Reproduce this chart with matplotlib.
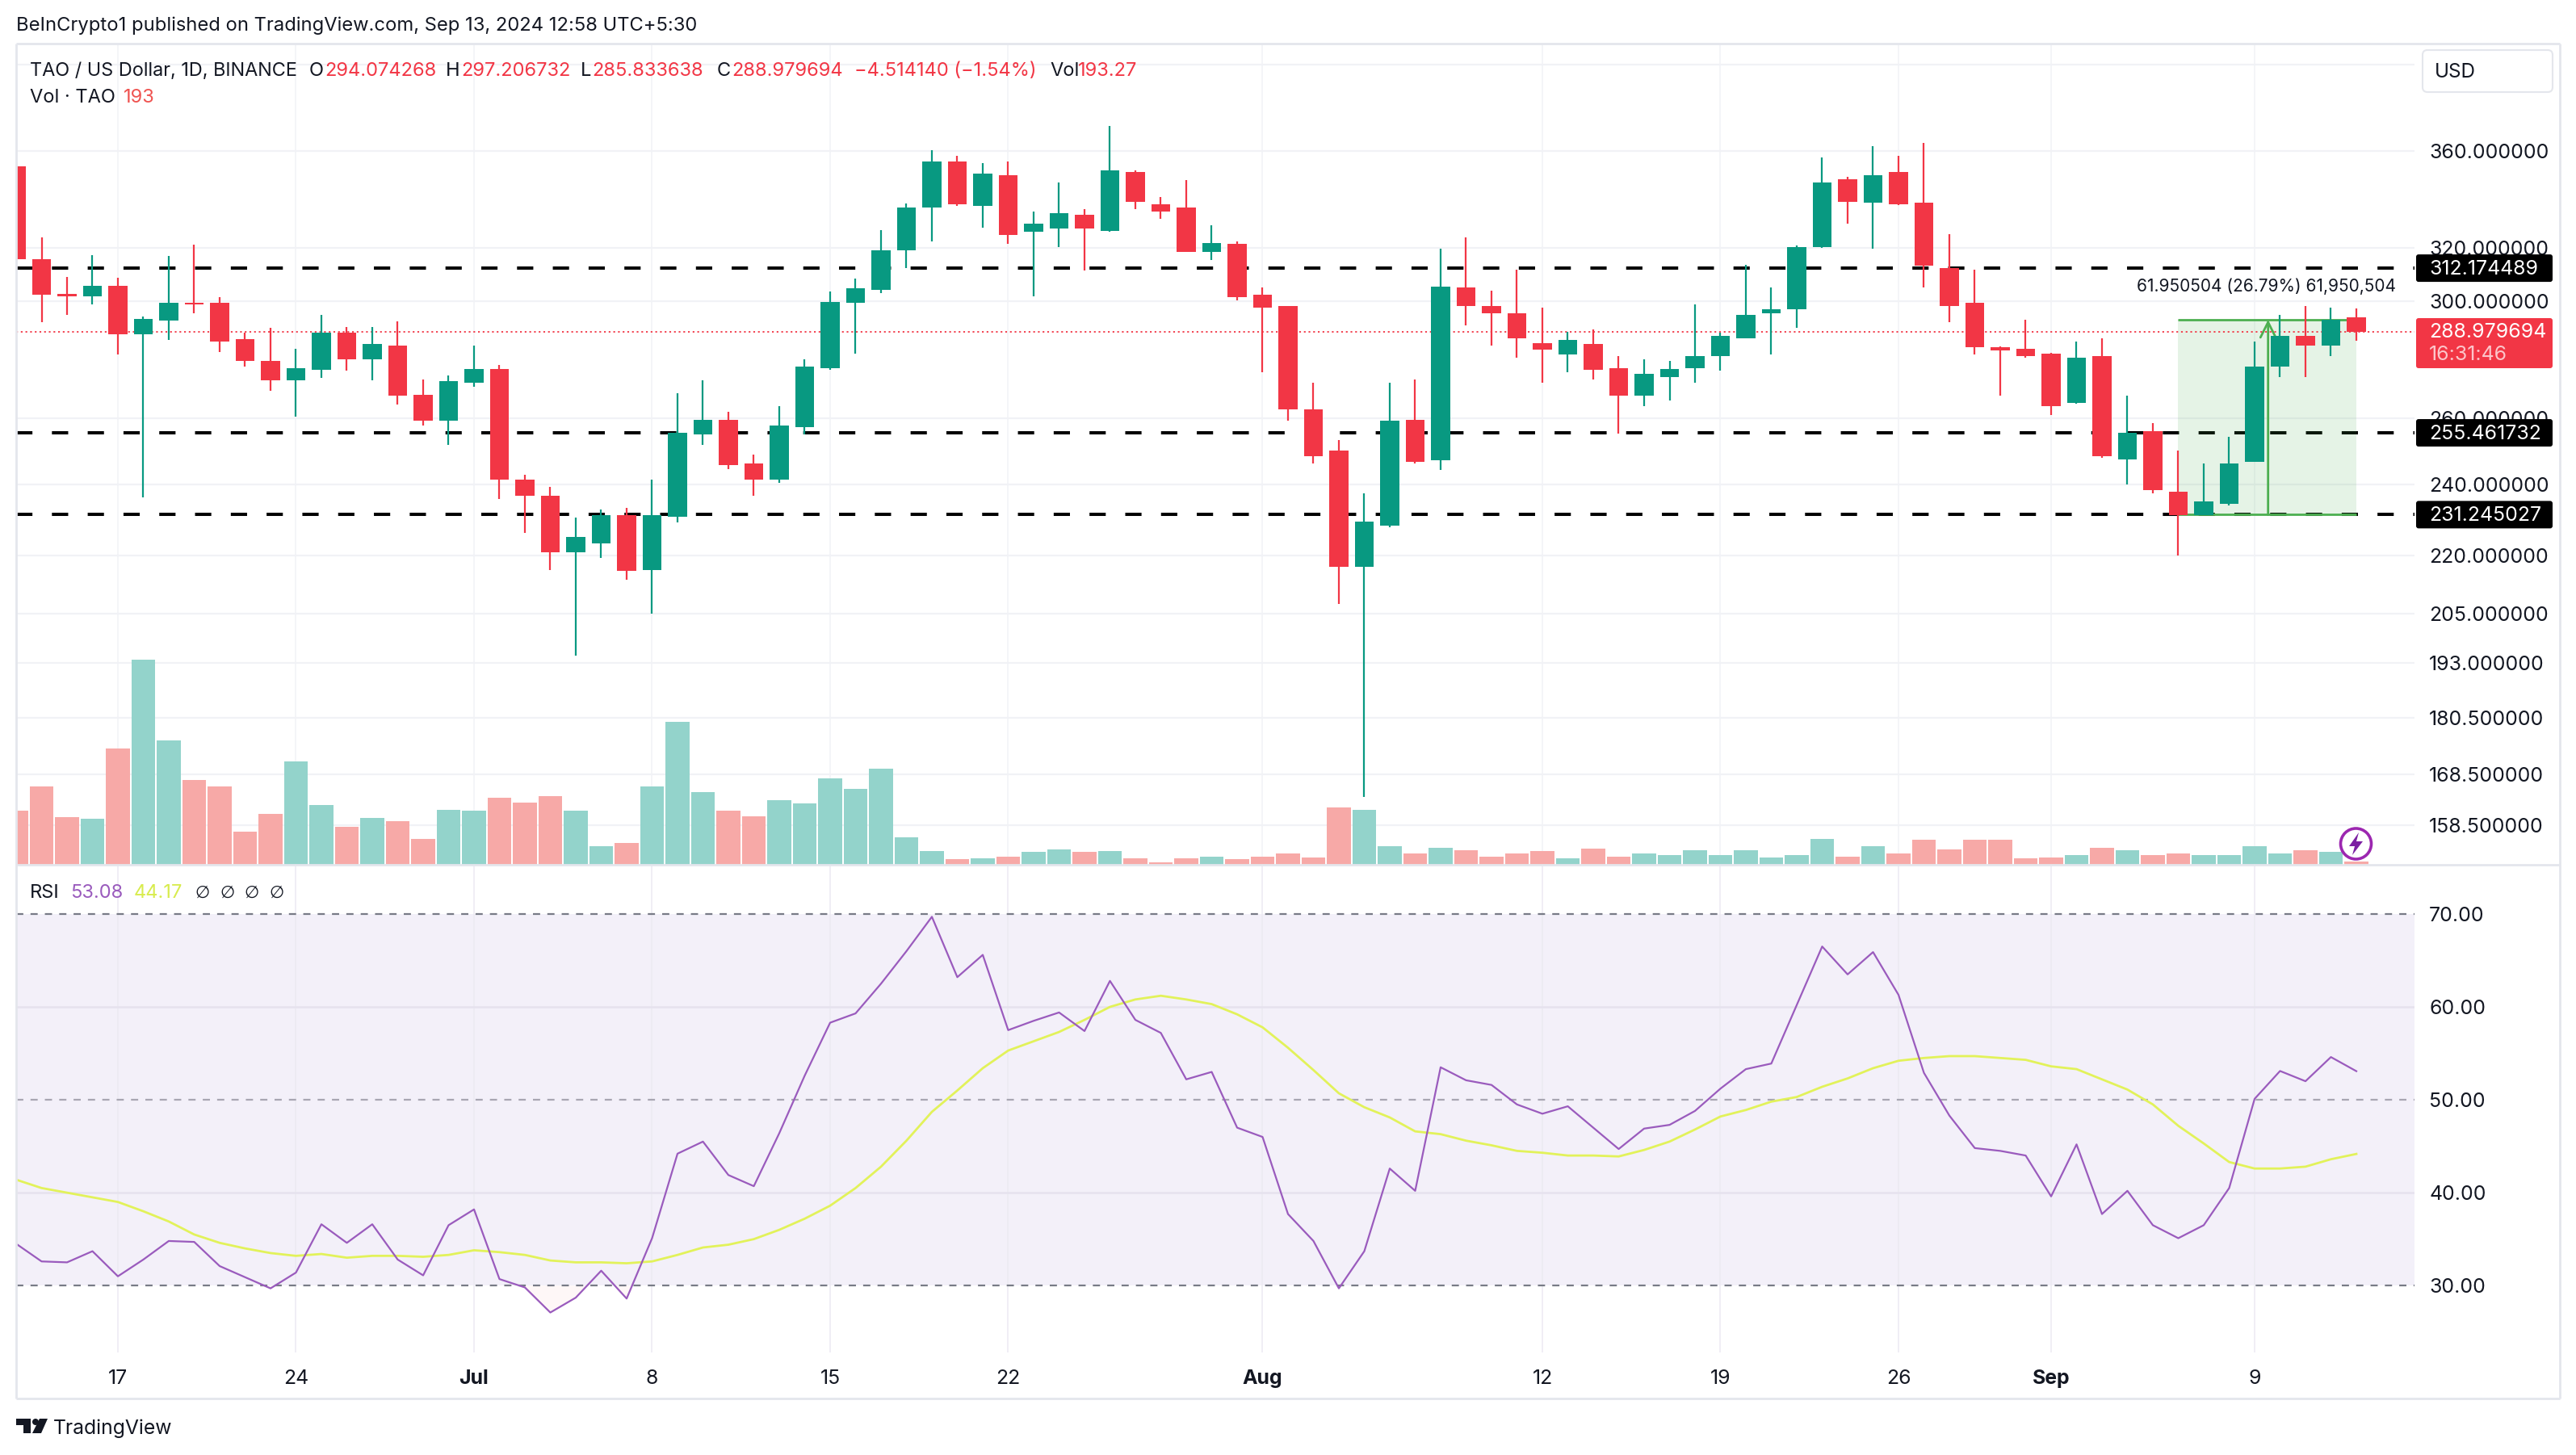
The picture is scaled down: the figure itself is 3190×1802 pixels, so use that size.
import matplotlib
matplotlib.use('Agg')
import matplotlib.pyplot as plt
from matplotlib.patches import Rectangle, FancyBboxPatch, Polygon, Circle
from matplotlib.ticker import NullLocator, NullFormatter

plt.rcParams['font.family'] = ['Inter', 'DejaVu Sans']

# candles, one per day from 13 Jun 2024
opens = [353.5, 315.7, 302.5, 301.5, 305.6, 288.1, 292.9, 299.4, 299.2, 286.2,
         278.9, 272.2, 275.7, 288.7, 279.3, 284.2, 267.6, 259.3, 271.6, 276.1,
         241.3, 236.6, 220.8, 223.3, 231.0, 216.1, 230.7, 255.1, 259.6, 246.1,
         241.4, 257.3, 276.5, 299.2, 304.0, 319.1, 336.0, 355.6, 336.7, 349.7,
         326.2, 327.5, 333.2, 326.6, 351.1, 337.4, 336.0, 318.5, 321.5, 302.1,
         298.0, 262.9, 250.1, 217.1, 228.1, 259.5, 247.2, 304.8, 298.2, 295.6,
         284.8, 281.0, 284.6, 276.3, 267.4, 273.3, 276.5, 280.4, 286.7, 295.4,
         297.0, 320.2, 347.7, 338.0, 350.9, 338.2, 312.1, 299.2, 283.6, 283.0,
         281.2, 264.9, 280.4, 247.4, 256.0, 237.9, 231.2, 234.3, 246.7, 276.8,
         287.5, 284.2, 294.07]
highs = [355.0, 324.0, 308.7, 317.0, 308.5, 294.4, 316.8, 321.1, 301.3, 288.7,
         290.3, 283.0, 295.0, 290.5, 290.5, 292.5, 272.5, 273.9, 284.2, 277.4,
         242.7, 239.1, 230.4, 232.6, 233.1, 241.3, 268.0, 272.2, 262.1, 248.7,
         264.0, 279.4, 303.4, 308.1, 326.8, 337.6, 360.5, 357.8, 354.9, 355.6,
         334.4, 346.5, 335.3, 371.2, 351.8, 340.3, 347.5, 329.0, 322.6, 304.8,
         298.2, 271.6, 253.3, 237.4, 271.6, 272.5, 319.5, 324.0, 303.6, 311.7,
         297.4, 288.9, 289.7, 280.6, 279.4, 278.9, 298.6, 288.7, 313.4, 304.8,
         320.9, 357.3, 348.9, 362.0, 357.8, 363.7, 325.5, 311.7, 283.8, 293.1,
         281.6, 285.4, 286.7, 267.2, 258.4, 249.9, 246.2, 254.2, 285.6, 294.8,
         298.2, 297.6, 297.21]
lows = [315.0, 292.3, 294.8, 298.6, 281.0, 236.1, 286.0, 295.4, 282.0, 277.0,
        269.0, 260.5, 273.1, 275.5, 272.2, 264.4, 257.7, 251.8, 270.3, 235.6,
        226.1, 216.2, 194.8, 219.3, 213.6, 205.0, 229.0, 251.8, 244.5, 236.6,
        240.3, 255.1, 275.9, 281.2, 302.7, 312.1, 322.6, 336.7, 327.9, 321.5,
        301.5, 320.2, 311.3, 326.2, 335.3, 331.5, 318.3, 315.3, 300.1, 275.1,
        259.3, 246.2, 207.5, 164.0, 227.8, 246.2, 244.2, 291.1, 284.0, 279.8,
        271.6, 274.9, 272.7, 255.3, 263.8, 265.8, 271.4, 275.5, 286.5, 281.0,
        290.3, 320.0, 329.7, 319.6, 337.1, 304.8, 292.3, 281.0, 267.2, 279.8,
        261.0, 264.7, 247.9, 240.0, 237.4, 220.1, 231.0, 233.9, 246.5, 273.5,
        273.3, 280.6, 285.83]
closes = [315.5, 302.1, 301.5, 305.4, 288.1, 293.4, 299.2, 298.8, 285.6, 278.9,
          272.2, 276.3, 288.5, 279.3, 284.6, 267.4, 259.3, 272.0, 276.1, 241.3,
          236.6, 220.9, 225.0, 231.0, 216.0, 231.2, 255.6, 259.6, 245.6, 241.3,
          257.7, 277.0, 299.6, 304.6, 319.1, 336.2, 355.6, 337.4, 350.4, 325.1,
          329.5, 333.7, 327.5, 351.6, 338.5, 334.4, 318.5, 321.8, 301.3, 297.4,
          262.9, 248.2, 217.1, 229.2, 259.3, 246.6, 305.2, 298.2, 295.6, 286.7,
          282.6, 286.0, 275.7, 267.2, 274.6, 276.1, 280.4, 287.5, 295.0, 297.0,
          320.4, 346.5, 338.5, 349.7, 337.4, 313.0, 298.0, 283.6, 282.4, 280.6,
          263.8, 280.0, 248.2, 255.6, 238.2, 231.2, 235.1, 246.2, 276.8, 287.5,
          284.0, 293.1, 288.98]
volumes = [3104, 4480, 2720, 2624, 6688, 11776, 7136, 4896, 4480, 1920,
           2912, 5920, 3424, 2176, 2688, 2496, 1504, 3136, 3104, 3840,
           3552, 3936, 3104, 1088, 1248, 4480, 8192, 4160, 3104, 2784,
           3712, 3520, 4960, 4384, 5504, 1600, 800, 320, 352, 448,
           736, 864, 736, 768, 352, 160, 384, 480, 320, 448,
           640, 416, 3296, 3136, 1088, 672, 992, 832, 480, 640,
           768, 352, 928, 448, 672, 544, 832, 576, 832, 416,
           576, 1504, 480, 1056, 672, 1440, 864, 1440, 1440, 352,
           416, 576, 960, 832, 576, 640, 576, 544, 1056, 640,
           832, 736, 193]
rsi = [34.5, 32.6, 32.5, 33.7, 31.0, 32.8, 34.8, 34.7, 32.1, 30.9,
       29.7, 31.4, 36.6, 34.6, 36.6, 32.8, 31.1, 36.5, 38.2, 30.7,
       29.8, 27.1, 28.7, 31.6, 28.6, 35.1, 44.2, 45.5, 41.9, 40.7,
       46.4, 52.6, 58.3, 59.3, 62.5, 66.0, 69.7, 63.2, 65.6, 57.5,
       58.5, 59.4, 57.4, 62.8, 58.6, 57.2, 52.2, 53.0, 47.0, 46.0,
       37.7, 34.8, 29.7, 33.7, 42.6, 40.2, 53.5, 52.1, 51.6, 49.5,
       48.5, 49.3, 47.0, 44.7, 46.9, 47.3, 48.8, 51.2, 53.3, 53.9,
       60.2, 66.5, 63.5, 65.9, 61.3, 52.9, 48.3, 44.8, 44.5, 44.0,
       39.6, 45.2, 37.7, 40.2, 36.5, 35.1, 36.5, 40.5, 50.1, 53.1,
       52.0, 54.6, 53.08]
rsi_ma = [41.4, 40.5, 40.0, 39.5, 39.0, 38.0, 36.9, 35.5, 34.6, 34.0,
          33.5, 33.2, 33.4, 33.0, 33.2, 33.2, 33.1, 33.3, 33.8, 33.6,
          33.3, 32.7, 32.5, 32.5, 32.4, 32.6, 33.3, 34.1, 34.4, 35.0,
          36.0, 37.2, 38.6, 40.5, 42.8, 45.6, 48.7, 51.0, 53.4, 55.3,
          56.3, 57.3, 58.6, 60.0, 60.8, 61.2, 60.8, 60.3, 59.2, 57.8,
          55.6, 53.2, 50.7, 49.2, 48.1, 46.6, 46.3, 45.6, 45.1, 44.5,
          44.3, 44.0, 44.0, 43.9, 44.6, 45.5, 46.8, 48.2, 48.9, 49.8,
          50.3, 51.4, 52.3, 53.4, 54.2, 54.5, 54.7, 54.7, 54.5, 54.3,
          53.6, 53.3, 52.2, 51.1, 49.5, 47.2, 45.3, 43.3, 42.6, 42.6,
          42.8, 43.6, 44.17]

date_ticks = [4, 11, 18, 25, 32, 39, 49, 60, 67, 74, 80, 88]
date_labels = ['17', '24', 'Jul', '8', '15', '22', 'Aug', '12', '19', '26', 'Sep', '9']
month_labels = ['Jul', 'Aug', 'Sep']
price_ticks = [400, 360, 320, 300, 260, 240, 220, 205, 193, 180.5, 168.5, 158.5]
rsi_ticks = [30, 40, 50, 60, 70]
levels = [312.174489, 255.461732, 231.245027]
last_price = 288.979694
measure_low = 231.245027
measure_diff = 61.950504

GREEN = '#089981'
RED = '#f23645'
VOL_GREEN = '#93d3cb'
VOL_RED = '#f7a9a7'
TEXT = '#131722'
GRID = '#f1f2f6'
BORDER = '#e4e6ec'
LIME = '#e2f25a'
PURPLE = '#9a5bbd'
LABEL_SIZE = 17.9
W, H = 3190, 1802


def px_axes(x0, y0, x1, y1, **kw):
    return fig.add_axes([x0 / W, 1 - y1 / H, (x1 - x0) / W, (y1 - y0) / H], **kw)


fig = plt.figure(figsize=(W / 100, H / 100), dpi=100, facecolor='white')
days = list(range(len(closes)))
xmax = (2990 - 20) / 31.5

# price pane
ax = px_axes(20, 54, 2990, 1071, zorder=1)
ax.set_yscale('log')
ax.set_xlim(0, xmax)
ax.set_ylim(151.0, 410.3)
ax.yaxis.tick_right()
ax.yaxis.set_major_locator(plt.FixedLocator(price_ticks))
ax.yaxis.set_minor_locator(NullLocator())
ax.yaxis.set_minor_formatter(NullFormatter())
ax.set_yticklabels(['' if p == 400 else '%.6f' % p for p in price_ticks])
ax.set_xticks(date_ticks)
ax.set_xticklabels([])
ax.tick_params(length=0, labelsize=LABEL_SIZE, labelcolor=TEXT, pad=13)
ax.grid(True, axis='y', color=GRID, lw=1.6, zorder=0)
ax.grid(True, axis='x', color=GRID, lw=1.1, zorder=0)
ax.set_axisbelow(True)
for s in ax.spines.values():
    s.set_visible(False)

for lv in levels:
    ax.axhline(lv, color='black', lw=2.9, ls=(0, (5, 6)), dash_capstyle='butt', zorder=1)
ax.axhline(last_price, color=RED, lw=1.3, ls=(0, (1.2, 2)), zorder=1.5)

# measure box
top = measure_low + measure_diff
ax.add_patch(Rectangle((85, measure_low), 7, measure_diff, facecolor='#4caf50', alpha=0.14,
                       edgecolor='none', zorder=1.2))
ax.hlines([measure_low, top], 85, 92, color='#4caf50', lw=2, zorder=1.3)
ax.annotate('', xy=(88.53, top), xytext=(88.53, measure_low), zorder=1.3,
            arrowprops=dict(arrowstyle='->', color='#4caf50', lw=2, mutation_scale=34,
                            shrinkA=0, shrinkB=0))

colors = [GREEN if c >= o else RED for o, c in zip(opens, closes)]
vol_colors = [VOL_GREEN if c >= o else VOL_RED for o, c in zip(opens, closes)]
ax.vlines(days, lows, highs, color=colors, lw=1.6, zorder=3)
ax.bar(days, [abs(c - o) for o, c in zip(opens, closes)], bottom=[min(o, c) for o, c in zip(opens, closes)],
       width=0.75, color=colors, zorder=4)

# volume on top, same pane
ax_vol = px_axes(20, 54, 2990, 1071, zorder=2)
ax_vol.patch.set_alpha(0)
ax_vol.set_xlim(0, xmax)
ax_vol.set_ylim(0, 47200)
ax_vol.axis('off')
ax_vol.bar(days, volumes, width=0.93, color=vol_colors)

# RSI pane
ax2 = px_axes(20, 1071, 2990, 1675, zorder=1)
ax2.set_xlim(0, xmax)
ax2.set_ylim(22.8, 75.3)
ax2.yaxis.tick_right()
ax2.set_yticks(rsi_ticks)
ax2.set_yticklabels(['%.2f' % v for v in rsi_ticks])
ax2.set_xticks(date_ticks)
ax2.set_xticklabels(date_labels)
for lab in ax2.get_xticklabels():
    if lab.get_text() in month_labels:
        lab.set_fontweight('bold')
ax2.tick_params(length=0, labelsize=LABEL_SIZE, labelcolor=TEXT)
ax2.tick_params(axis='y', pad=13)
ax2.tick_params(axis='x', pad=15)
ax2.grid(True, axis='x', color='#eceaf2', lw=1.1, zorder=0)
ax2.set_axisbelow(True)
for s in ax2.spines.values():
    s.set_visible(False)
ax2.axhspan(30, 70, color='#7e57c2', alpha=0.085, lw=0, zorder=0.5)
ax2.fill_between(days, rsi, 30, where=[r < 30 for r in rsi], interpolate=True,
                 color=RED, alpha=0.04, lw=0)
ax2.hlines([40, 60], 0, xmax, color='#e6e2ee', lw=1.8, zorder=0.8)
ax2.hlines([30, 70], 0, xmax, color='#787b86', lw=1.6, ls=(0, (4, 4)), zorder=1)
ax2.hlines(50, 0, xmax, color='#a8a6b2', lw=1.6, ls=(0, (4, 4)), zorder=1)
ax2.plot(days, rsi_ma, color=LIME, lw=2.0, zorder=2)
ax2.plot(days, rsi, color=PURPLE, lw=1.6, zorder=3)


# overlay in figure pixels for the chrome
ov = px_axes(0, 0, W, H, zorder=10)
ov.set_xlim(0, W)
ov.set_ylim(H, 0)
ov.axis('off')
ov.patch.set_alpha(0)


def price_y(p):
    return H - ax.transData.transform((0, p))[1]


def label(x, y, s, color=TEXT, size=17, **kw):
    return ov.text(x, y, s, color=color, fontsize=size, va='center', **kw)


for xs, ys in [((20, 3170), (54, 54)), ((20, 3170), (1071, 1071)), ((20, 3170), (1732, 1732)),
               ((20, 20), (54, 1732)), ((3170, 3170), (54, 1732))]:
    ov.plot(xs, ys, color=BORDER, lw=2, solid_capstyle='butt')

label(20, 32, 'BeInCrypto1 published on TradingView.com, Sep 13, 2024 12:58 UTC+5:30', size=17.1)

# legend row, OHLC
label(37, 88, 'TAO / US Dollar, 1D, BINANCE', size=16.9)
for x, s in [(383, 'O'), (552, 'H'), (719, 'L'), (888, 'C'), (1300, 'Vol')]:
    label(x, 88, s)
for x, s in [(402, '294.074268'), (571, '297.206732'), (733, '285.833638'), (906, '288.979694'),
             (1058, '\u22124.514140 (\u22121.54%)'), (1335, '193.27')]:
    label(x, 88, s, color=RED)
label(37, 121, 'Vol \u00b7 TAO')
label(153, 121, '193', color='#ef5350')

# RSI legend
label(37, 1106, 'RSI')
label(87, 1106, '53.08', color=PURPLE)
label(166, 1106, '44.17', color='#d8ec4e')
for x in [250, 281, 311, 342]:
    label(x, 1106, '\u2205', size=15, family='DejaVu Sans', ha='center')

# USD box
ov.add_patch(FancyBboxPatch((3004, 66), 153, 44, boxstyle='round,pad=4,rounding_size=6',
                            fc='white', ec=BORDER, lw=1.5))
label(3015, 89, 'USD', size=17.5)

# price tags
for lv in levels:
    yc = price_y(lv)
    ov.add_patch(FancyBboxPatch((2992, yc - 17), 169, 34, boxstyle='round,pad=0,rounding_size=3',
                                fc='black', ec='none', zorder=5))
    label(3008, yc + 1, '%.6f' % lv, color='white', size=LABEL_SIZE, zorder=6)
ov.add_patch(FancyBboxPatch((2992, 394), 169, 62, boxstyle='round,pad=0,rounding_size=3',
                            fc=RED, ec='none', zorder=5))
label(3008, 411, '%.6f' % last_price, color='white', size=LABEL_SIZE, zorder=6)
label(3008, 440, '16:31:46', color='#fcc5ca', size=LABEL_SIZE, zorder=6)

label(2806, 355, '61.950504 (26.79%) 61,950,504', size=15, ha='center')

# lightning badge
ov.add_patch(Circle((2917.5, 1045), 19, fc='white', ec='#9c27b0', lw=2.6, zorder=5))
ov.add_patch(Polygon([(2921, 1031), (2909, 1048), (2916, 1048), (2913, 1059), (2926, 1042), (2918, 1042)],
                     fc='#7b1fa2', ec='none', zorder=6))

# TradingView logo
ov.add_patch(Polygon([(20, 1757), (38, 1757), (38, 1775), (29, 1775), (29, 1765), (20, 1765)], fc=TEXT, ec='none'))
ov.add_patch(Circle((44, 1761), 4, fc=TEXT, ec='none'))
ov.add_patch(Polygon([(49, 1757), (59, 1757), (51, 1775), (40, 1775)], fc=TEXT, ec='none'))
label(66, 1769, 'TradingView', size=17.8)

fig.savefig('out.png', dpi=100)
